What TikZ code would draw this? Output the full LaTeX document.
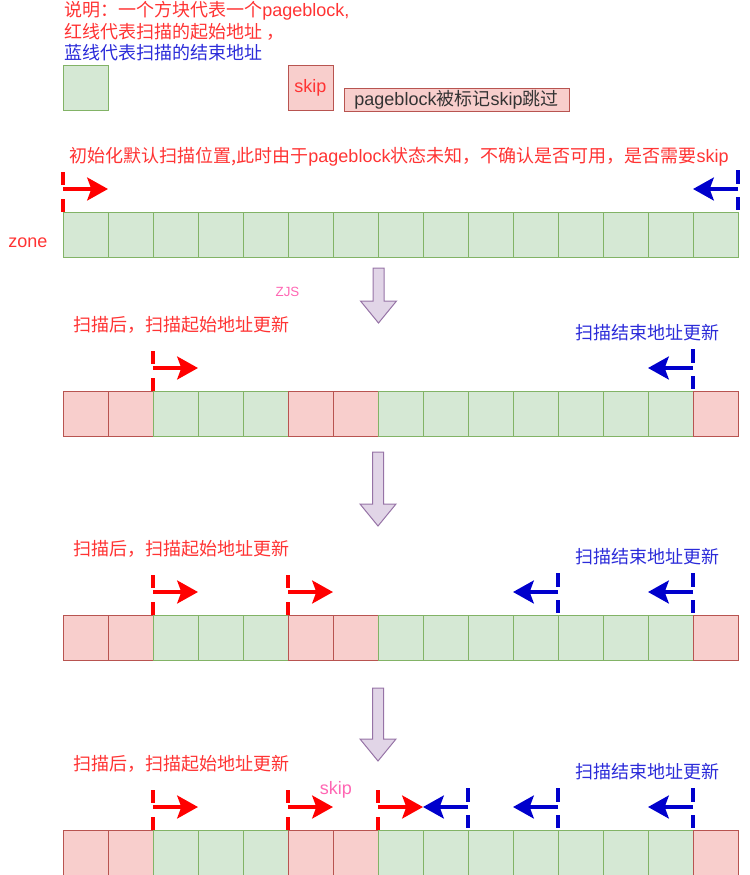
\documentclass[tikz,border=0pt]{standalone}
\usepackage{fontspec}
\setmainfont{Liberation Sans}
\newfontfamily\cjk{Noto Sans CJK SC}
\usetikzlibrary{arrows.meta,calc}
\definecolor{gstroke}{HTML}{82B366}
\definecolor{gfill}{HTML}{D5E8D4}
\definecolor{rstroke}{HTML}{B85450}
\definecolor{rfill}{HTML}{F8CECC}
\definecolor{txtr}{HTML}{FF3333}
\definecolor{txtb}{HTML}{2B2BD9}
\definecolor{liner}{HTML}{FF0000}
\definecolor{lineb}{HTML}{0000CC}
\definecolor{pinktxt}{HTML}{FF66B3}
\definecolor{lavfill}{HTML}{E1D5E7}
\definecolor{lavstroke}{HTML}{9673A6}
\definecolor{darktxt}{HTML}{333333}
\tikzset{
  gcell/.style={draw=gstroke, fill=gfill, line width=0.75pt, minimum width=33.75pt, minimum height=33.75pt, inner sep=0pt, outer sep=0pt},
  rcell/.style={gcell, draw=rstroke, fill=rfill},
  txtred/.style={text=txtr, inner sep=0pt},
  txtblue/.style={text=txtb, inner sep=0pt},
  redline/.style={draw=liner, line width=3.3pt, dash pattern=on 9.75pt off 10.5pt},
  blueline/.style={draw=lineb, line width=3.3pt, dash pattern=on 10.5pt off 9.75pt},
  redarrow/.style={draw=liner, line width=3.6pt, -{Stealth[length=15.5pt, width=17pt, inset=3pt]}},
  bluearrow/.style={draw=lineb, line width=3.6pt, -{Stealth[length=15.5pt, width=17pt, inset=3pt]}},
  downarrow/.style={draw=lavstroke, fill=lavfill, line width=0.75pt, line join=miter},
}
\newcommand\startmark[1]{%
  \draw[redline] ($(#1)+(0,-40)$) -- (#1);
  \draw[redarrow] ($(#1)+(0,-23)$) -- ++(45,0);
}
\newcommand\stopmark[1]{%
  \draw[blueline] ($(#1)+(0,-42)$) -- ($(#1)+(0,-2)$);
  \draw[bluearrow] ($(#1)+(0,-23)$) -- ++(-45,0);
}
\newcommand\downarr[3]{%
  \draw[downarrow] (#1-5.5,#2) -- (#1+5.5,#2) -- (#1+5.5,#3-22) -- (#1+18,#3-22) -- (#1,#3) -- (#1-18,#3-22) -- (#1-5.5,#3-22) -- cycle;
}
\begin{document}
\begin{tikzpicture}[x=0.75pt, y=-0.75pt, font=\fontsize{13.5pt}{16pt}\selectfont]
\useasboundingbox (0,0) rectangle (750,875);
% legend
\node[txtred, anchor=west] (leg1) at (64,11) {{\cjk 说明：一个方块代表一个}pageblock,};
\node[txtred, anchor=west] (leg2) at (64,31.5) {\cjk 红线代表扫描的起始地址 ，};
\node[txtblue, anchor=west] (leg3) at (64,52.5) {\cjk 蓝线代表扫描的结束地址};
\node[gcell] (lgreen) at (85.5,88) {};
\node[rcell, text=txtr] (lskip) at (310.5,88) {skip};
\node[rcell, text=darktxt, minimum width=168.75pt, minimum height=17.25pt] (llabel) at (456.5,99.5) {pageblock{\cjk 被标记}skip{\cjk 跳过}};
% row 1
\node[txtred] (title1) at (399,157) {{\cjk 初始化默认扫描位置,此时由于}pageblock{\cjk 状态未知，不确认是否可用，是否需要}skip};
\node[txtred] (zone) at (28,243) {zone};
\foreach \i in {0,...,14} {
  \node[gcell] (r1-\i) at (85.5+45*\i, 234.5) {};
}
\startmark{r1-0.north west}
\stopmark{r1-14.north east}
% arrow 1
\downarr{378.5}{268}{323}
\node[text=pinktxt, inner sep=0pt, font=\fontsize{10pt}{12pt}\selectfont] (zjs) at (287.5,292) {ZJS};
% rows 2-4
\foreach \r/\T in {2/391,3/615,4/830} {
  \foreach \i/\s in {0/rcell,1/rcell,2/gcell,3/gcell,4/gcell,5/rcell,6/rcell,7/gcell,8/gcell,9/gcell,10/gcell,11/gcell,12/gcell,13/gcell,14/rcell} {
    \node[\s] (r\r-\i) at (85.5+45*\i, \T+22.5) {};
  }
  \node[txtred] (la\r) at (181.5, \T-66) {\cjk 扫描后，扫描起始地址更新};
  \node[txtblue] (lb\r) at (647.5, \T-58) {\cjk 扫描结束地址更新};
}
% row 2 markers
\startmark{r2-2.north west}
\stopmark{r2-14.north west}
\downarr{378}{452}{526}
% row 3 markers
\startmark{r3-2.north west}
\startmark{r3-5.north west}
\stopmark{r3-11.north west}
\stopmark{r3-14.north west}
\downarr{378}{688}{761}
% row 4 markers
\startmark{r4-2.north west}
\startmark{r4-5.north west}
\startmark{r4-7.north west}
\stopmark{r4-9.north west}
\stopmark{r4-11.north west}
\stopmark{r4-14.north west}
\node[text=pinktxt, inner sep=0pt] (skip4) at (336,790) {skip};
\end{tikzpicture}
\end{document}
